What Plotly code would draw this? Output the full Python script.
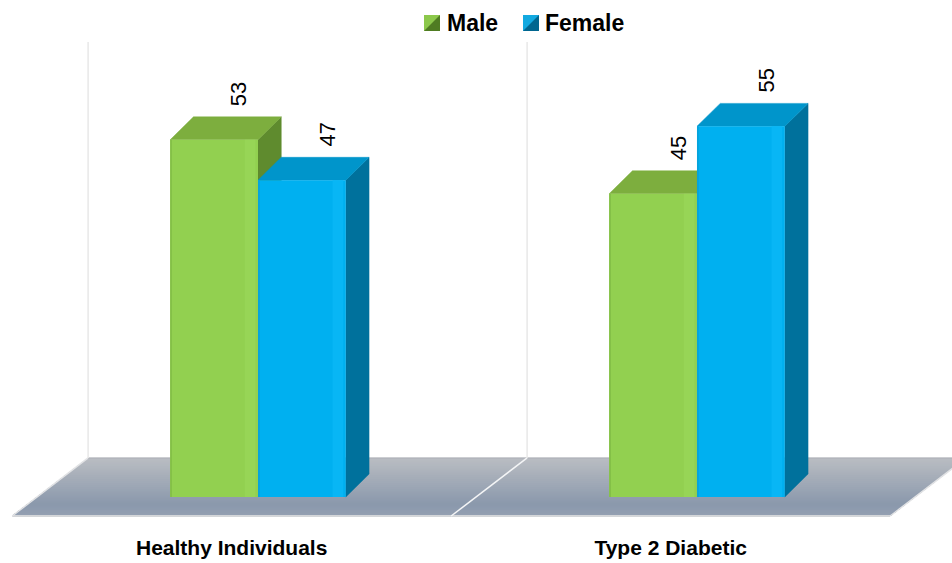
import plotly.graph_objects as go

# ---- data -------------------------------------------------------------
categories = ["Healthy Individuals", "Type 2 Diabetic"]
series_names = ["Male", "Female"]
male_values = [53, 45]
female_values = [47, 55]

# ---- styling / pseudo-3D geometry (data units) --------------------------
FRONT = {"Male": "#92d050", "Female": "#00b0f0"}
HILITE = {"Male": "#97d556", "Female": "#08b6f5"}
SEAM = {"Male": "#84bf47", "Female": "#05a3dc"}
TOP = {"Male": "#7dae3e", "Female": "#0095cb"}
SIDE = {"Male": "#5f8b2e", "Female": "#00719c"}
LEG_LIGHT = {"Male": "#8cc84b", "Female": "#12a9e0"}
LEG_DARK = {"Male": "#4f7c22", "Female": "#00668f"}

BAR_W = 0.2            # width of each bar front
DEPTH_DX = 0.053       # horizontal projection of bar depth
DEPTH_DY = 3.4         # vertical projection of bar depth
FLOOR_BACK_Y, FLOOR_BACK_DX = 5.8, 0.113
FLOOR_FRONT_Y, FLOOR_FRONT_DX = -2.82, -0.06
WALL_TOP = 67.5

X_RANGE = [-0.5877, 1.5809]
Y_RANGE = [-5.34, 73.74]
FONT = "Liberation Sans, Arial, sans-serif"

xpos = list(range(len(categories)))
series = [("Male", male_values, -BAR_W), ("Female", female_values, 0.0)]

fig = go.Figure()
for name, vals, off in series:
    fig.add_trace(go.Bar(
        x=xpos, y=vals, name=name, width=BAR_W, offset=off,
        marker=dict(color=FRONT[name], line=dict(width=0)),
        showlegend=False, hoverinfo="skip",
    ))

shapes = []


def floor_shift(y):
    t = (y - FLOOR_FRONT_Y) / (FLOOR_BACK_Y - FLOOR_FRONT_Y)
    return FLOOR_FRONT_DX + t * (FLOOR_BACK_DX - FLOOR_FRONT_DX)


def lerp(c1, c2, t):
    return "rgb(%d,%d,%d)" % tuple(round(a + (b - a) * t) for a, b in zip(c1, c2))


# floor: overlapping slabs (each reaching the front edge) for a seamless gradient
n_cat = len(categories)
x_lo, x_hi = -0.5, n_cat - 0.5
N_BANDS = 30
c_back, c_mid, c_front = (186, 189, 194), (138, 152, 172), (148, 160, 178)
yf = FLOOR_FRONT_Y
for k in range(N_BANDS):
    y0 = FLOOR_BACK_Y + (FLOOR_FRONT_Y - FLOOR_BACK_Y) * k / N_BANDS
    t = (k + 0.5) / N_BANDS
    col = lerp(c_back, c_mid, t / 0.8) if t < 0.8 else lerp(c_mid, c_front, (t - 0.8) / 0.2)
    path = "M%f,%f L%f,%f L%f,%f L%f,%f Z" % (
        x_lo + floor_shift(y0), y0, x_hi + floor_shift(y0), y0,
        x_hi + floor_shift(yf), yf, x_lo + floor_shift(yf), yf)
    shapes.append(dict(type="path", path=path, xref="x", yref="y", layer="below",
                       fillcolor=col, line=dict(width=0)))

# floor outline and category divider
edge = dict(xref="x", yref="y", layer="below", type="line")
shapes.append(dict(edge, x0=x_lo + FLOOR_FRONT_DX, y0=FLOOR_FRONT_Y,
                   x1=x_hi + FLOOR_FRONT_DX, y1=FLOOR_FRONT_Y,
                   line=dict(color="#d4d6d9", width=2)))
shapes.append(dict(edge, x0=x_lo + FLOOR_FRONT_DX, y0=FLOOR_FRONT_Y,
                   x1=x_lo + FLOOR_BACK_DX, y1=FLOOR_BACK_Y,
                   line=dict(color="#e2e3e5", width=1.5)))
shapes.append(dict(edge, x0=x_hi + FLOOR_FRONT_DX, y0=FLOOR_FRONT_Y,
                   x1=x_hi + FLOOR_BACK_DX, y1=FLOOR_BACK_Y,
                   line=dict(color="#e2e3e5", width=1.5)))
shapes.append(dict(edge, x0=x_lo + FLOOR_BACK_DX, y0=FLOOR_BACK_Y,
                   x1=x_hi + FLOOR_BACK_DX, y1=FLOOR_BACK_Y,
                   line=dict(color="#a9adb3", width=1)))
for i in range(1, n_cat):
    shapes.append(dict(edge, x0=i - 0.5 + FLOOR_BACK_DX, y0=FLOOR_BACK_Y,
                       x1=i - 0.5 + FLOOR_FRONT_DX, y1=FLOOR_FRONT_Y,
                       line=dict(color="#f4f5f6", width=1.5)))

# back wall dividers
for i in range(n_cat + 1):
    xw = i - 0.5 + FLOOR_BACK_DX
    shapes.append(dict(edge, x0=xw, y0=FLOOR_BACK_Y, x1=xw, y1=WALL_TOP,
                       line=dict(color="#e8e8e8", width=1.5)))

# side and top faces of every bar, derived from its value
annotations = []
for name, vals, off in series:
    for i, v in zip(xpos, vals):
        left = i + off
        right = left + BAR_W
        side = "M%f,0 L%f,%f L%f,%f L%f,%f Z" % (
            right, right + DEPTH_DX, DEPTH_DY, right + DEPTH_DX, v + DEPTH_DY, right, v)
        top = "M%f,%f L%f,%f L%f,%f L%f,%f Z" % (
            left, v, left + DEPTH_DX, v + DEPTH_DY, right + DEPTH_DX, v + DEPTH_DY, right, v)
        shapes.append(dict(type="path", path=side, xref="x", yref="y", layer="below",
                           fillcolor=SIDE[name], line=dict(color=SIDE[name], width=0.5)))
        shapes.append(dict(type="path", path=top, xref="x", yref="y", layer="below",
                           fillcolor=TOP[name], line=dict(color=TOP[name], width=0.5)))
        # soft bevel highlight near the right edge and a seam on the left edge
        shapes.append(dict(type="rect", xref="x", yref="y", layer="above",
                           x0=right - 0.03, x1=right - 0.006, y0=0, y1=v,
                           fillcolor=HILITE[name], line=dict(width=0)))
        shapes.append(dict(type="rect", xref="x", yref="y", layer="above",
                           x0=left, x1=left + 0.004, y0=0, y1=v,
                           fillcolor=SEAM[name], line=dict(width=0)))
        annotations.append(dict(
            x=left + BAR_W / 2 + DEPTH_DX, y=v + DEPTH_DY, xref="x", yref="y",
            text=str(v), showarrow=False, textangle=-90,
            xanchor="center", yanchor="bottom", yshift=9, xshift=2,
            font=dict(family=FONT, size=22, color="#000000"),
        ))

# legend: bevelled colour squares followed by bold labels
legend_items = [("Male", 424, 445), ("Female", 523, 543)]
W, PLOT_H = 952, 533
for name, sq_x, tx in legend_items:
    x0, x1 = sq_x / W, (sq_x + 16) / W
    y0, y1 = 1 - 31 / PLOT_H, 1 - 15 / PLOT_H
    shapes.append(dict(type="rect", xref="paper", yref="paper", x0=x0, x1=x1, y0=y0, y1=y1,
                       fillcolor=LEG_LIGHT[name], line=dict(width=0)))
    shapes.append(dict(type="path", xref="paper", yref="paper",
                       path="M%f,%f L%f,%f L%f,%f Z" % (x1, y1, x1, y0, x0, y0),
                       fillcolor=LEG_DARK[name], line=dict(width=0)))
    annotations.append(dict(
        x=tx / W, y=1 - 23 / PLOT_H, xref="paper", yref="paper", text="<b>%s</b>" % name,
        showarrow=False, xanchor="left", yanchor="middle",
        font=dict(family=FONT, size=23, color="#000000"),
    ))

fig.update_layout(
    width=952, height=563,
    margin=dict(l=0, r=0, t=0, b=30),
    paper_bgcolor="#ffffff", plot_bgcolor="#ffffff",
    barmode="overlay",
    showlegend=False,
    shapes=shapes,
    annotations=annotations,
    xaxis=dict(
        range=X_RANGE, showgrid=False, zeroline=False, showline=False, ticks="",
        tickvals=[i + FLOOR_FRONT_DX for i in xpos],
        ticktext=["<b>%s</b>" % c for c in categories],
        tickfont=dict(family=FONT, size=21, color="#000000"),
        fixedrange=True,
    ),
    yaxis=dict(range=Y_RANGE, visible=False, fixedrange=True),
)

fig.write_html("out.html")
